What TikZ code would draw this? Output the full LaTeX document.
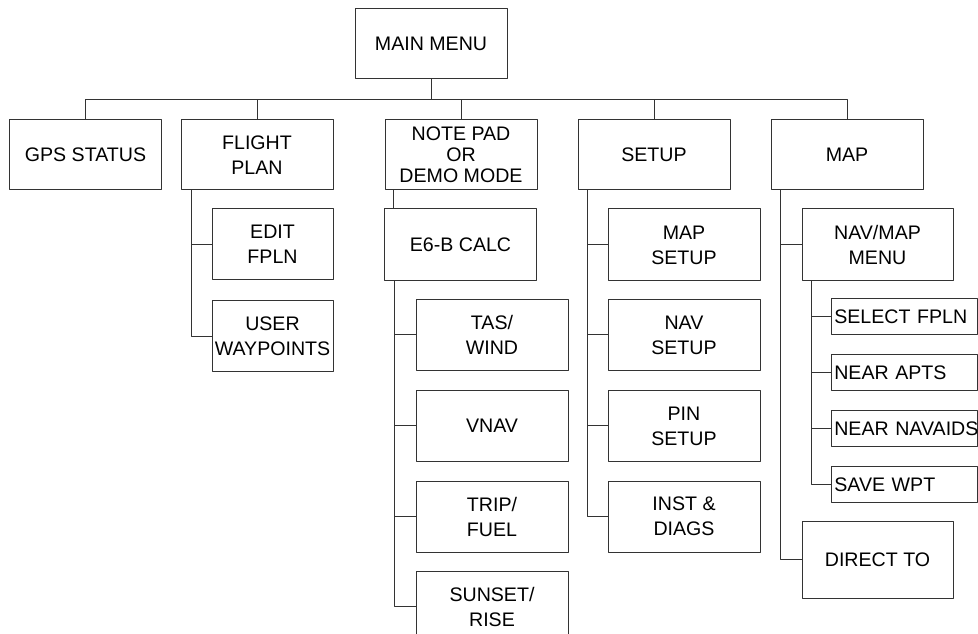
\documentclass[tikz,border=0pt]{standalone}
\usepackage{fontspec}
\setmainfont{Liberation Sans}
\usetikzlibrary{calc}
\begin{document}
\begin{tikzpicture}[x=0.75pt, y=-0.75pt, font={\fontsize{14.7}{18.75}\selectfont}, line join=round, line width=0.75pt,
	box/.style={draw=black!80, align=center, inner sep=0pt, minimum width=114pt, minimum height=52.5pt},
	sub/.style={draw=black!80, inner sep=0pt, inner xsep=2.5pt, text width=104.5pt, align=left, minimum height=27pt},
	wire/.style={black!80}]
	\clip (0,0) rectangle (978,634);
	% top row
	\node[box] (main) at (431,44) {MAIN MENU};
	\node[box] (gps) at (85.5,155) {GPS STATUS};
	\node[box] (flight) at (257,155) {FLIGHT\\PLAN};
	\node[box, font={\fontsize{14.7}{15.75}\selectfont}] (note) at (461,155) {NOTE PAD\\OR\\DEMO MODE};
	\node[box] (setup) at (654,155) {SETUP};
	\node[box] (map) at (847,155) {MAP};
	% flight plan
	\node[box, minimum width=90.75pt, minimum height=53.25pt] (edit) at (272.5,244.5) {EDIT\\FPLN};
	\node[box, minimum width=90.75pt, minimum height=53.25pt] (user) at (272.5,336.5) {USER\\WAYPOINTS};
	% note pad
	\node[box, minimum height=54pt] (e6b) at (460.5,245) {E6-B CALC};
	\node[box, minimum height=53.25pt] (tas) at (492,335) {TAS/\\WIND};
	\node[box, minimum height=53.25pt] (vnav) at (492,426) {VNAV};
	\node[box, minimum height=53.25pt] (trip) at (492,516.5) {TRIP/\\FUEL};
	\node[box, minimum height=53.25pt] (sunset) at (492,606.5) {SUNSET/\\RISE};
	% setup
	\node[box, minimum height=54pt] (mapsetup) at (684,245) {MAP\\SETUP};
	\node[box, minimum height=53.25pt] (navsetup) at (684,335) {NAV\\SETUP};
	\node[box, minimum height=53.25pt] (pinsetup) at (684,426) {PIN\\SETUP};
	\node[box, minimum height=53.25pt] (inst) at (684,516.5) {INST \&\\DIAGS};
	% map
	\node[box, minimum width=113.25pt, minimum height=54pt] (navmap) at (877.5,245) {NAV/MAP\\MENU};
	\node[sub] (select) at (904,316.5) {SELECT~FPLN};
	\node[sub] (apts) at (904,372.5) {NEAR~APTS};
	\node[sub] (navaids) at (904,428.5) {NEAR~NAVAIDS};
	\node[sub] (savewpt) at (904,484.5) {SAVE~WPT};
	\node[box, minimum width=113.25pt, minimum height=57.75pt] (direct) at (877.5,559.5) {DIRECT TO};
	% connectors
	\foreach \n in {gps,flight,note,setup,map}
		\draw[wire] (main.south) -- ++(0,20) -| (\n.north);
	\foreach \n in {edit,user}
		\draw[wire] ($(flight.south west)+(11,0)$) |- (\n.west);
	\draw[wire] ($(note.south west)+(9,0)$) coordinate (nt) -- (nt |- e6b.north);
	\foreach \n in {tas,vnav,trip,sunset}
		\draw[wire] ($(e6b.south west)+(10,0)$) |- (\n.west);
	\foreach \n in {mapsetup,navsetup,pinsetup,inst}
		\draw[wire] ($(setup.south west)+(10,0)$) |- (\n.west);
	\foreach \n in {navmap,direct}
		\draw[wire] ($(map.south west)+(10,0)$) |- (\n.west);
	\foreach \n in {select,apts,navaids,savewpt}
		\draw[wire] ($(navmap.south west)+(10,0)$) |- (\n.west);
\end{tikzpicture}
\end{document}
